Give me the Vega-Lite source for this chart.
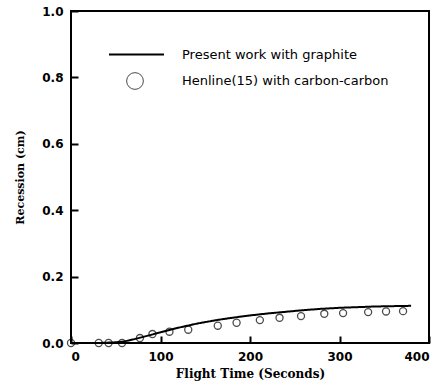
{
  "$schema": "https://vega.github.io/schema/vega-lite/v6.json",
  "width": 358,
  "height": 332,
  "autosize": "none",
  "padding": {"left": 71, "top": 11, "right": 18, "bottom": 42},
  "background": "white",
  "config": {
    "view": {"stroke": "black", "strokeWidth": 2},
    "axis": {
      "grid": false,
      "labelFont": "DejaVu Sans",
      "labelFontWeight": "bold",
      "labelFontSize": 12,
      "labelColor": "black",
      "titleFont": "DejaVu Serif",
      "titleFontWeight": "bold",
      "titleColor": "black"
    },
    "legend": {
      "padding": 0,
      "labelFont": "DejaVu Sans",
      "labelFontSize": 13,
      "labelColor": "black",
      "labelLimit": 400
    }
  },
  "datasets": {
    "model": [
      {"t": 30, "recession": 0.0, "series": "Present work with graphite"},
      {"t": 50, "recession": 0.002, "series": "Present work with graphite"},
      {"t": 60, "recession": 0.005, "series": "Present work with graphite"},
      {"t": 70, "recession": 0.011, "series": "Present work with graphite"},
      {"t": 80, "recession": 0.018, "series": "Present work with graphite"},
      {"t": 90, "recession": 0.025, "series": "Present work with graphite"},
      {"t": 100, "recession": 0.032, "series": "Present work with graphite"},
      {"t": 110, "recession": 0.039, "series": "Present work with graphite"},
      {"t": 120, "recession": 0.046, "series": "Present work with graphite"},
      {"t": 130, "recession": 0.052, "series": "Present work with graphite"},
      {"t": 140, "recession": 0.058, "series": "Present work with graphite"},
      {"t": 150, "recession": 0.063, "series": "Present work with graphite"},
      {"t": 165, "recession": 0.070, "series": "Present work with graphite"},
      {"t": 180, "recession": 0.076, "series": "Present work with graphite"},
      {"t": 200, "recession": 0.083, "series": "Present work with graphite"},
      {"t": 220, "recession": 0.089, "series": "Present work with graphite"},
      {"t": 240, "recession": 0.094, "series": "Present work with graphite"},
      {"t": 260, "recession": 0.099, "series": "Present work with graphite"},
      {"t": 280, "recession": 0.103, "series": "Present work with graphite"},
      {"t": 300, "recession": 0.106, "series": "Present work with graphite"},
      {"t": 320, "recession": 0.108, "series": "Present work with graphite"},
      {"t": 340, "recession": 0.110, "series": "Present work with graphite"},
      {"t": 360, "recession": 0.111, "series": "Present work with graphite"},
      {"t": 380, "recession": 0.112, "series": "Present work with graphite"}
    ],
    "henline": [
      {"t": 0, "recession": 0.0, "series": "Henline(15) with carbon-carbon"},
      {"t": 31, "recession": 0.0, "series": "Henline(15) with carbon-carbon"},
      {"t": 42, "recession": 0.0, "series": "Henline(15) with carbon-carbon"},
      {"t": 57, "recession": 0.0, "series": "Henline(15) with carbon-carbon"},
      {"t": 77, "recession": 0.015, "series": "Henline(15) with carbon-carbon"},
      {"t": 91, "recession": 0.027, "series": "Henline(15) with carbon-carbon"},
      {"t": 110, "recession": 0.034, "series": "Henline(15) with carbon-carbon"},
      {"t": 131, "recession": 0.040, "series": "Henline(15) with carbon-carbon"},
      {"t": 164, "recession": 0.052, "series": "Henline(15) with carbon-carbon"},
      {"t": 185, "recession": 0.061, "series": "Henline(15) with carbon-carbon"},
      {"t": 211, "recession": 0.069, "series": "Henline(15) with carbon-carbon"},
      {"t": 233, "recession": 0.076, "series": "Henline(15) with carbon-carbon"},
      {"t": 257, "recession": 0.081, "series": "Henline(15) with carbon-carbon"},
      {"t": 283, "recession": 0.088, "series": "Henline(15) with carbon-carbon"},
      {"t": 304, "recession": 0.090, "series": "Henline(15) with carbon-carbon"},
      {"t": 332, "recession": 0.093, "series": "Henline(15) with carbon-carbon"},
      {"t": 352, "recession": 0.095, "series": "Henline(15) with carbon-carbon"},
      {"t": 371, "recession": 0.096, "series": "Henline(15) with carbon-carbon"}
    ]
  },
  "encoding": {
    "x": {
      "field": "t",
      "type": "quantitative",
      "scale": {"domain": [0, 400], "nice": false, "zero": false},
      "axis": {
        "values": [0, 100, 200, 300, 400],
        "format": "d",
        "title": "Flight Time (Seconds)",
        "titleFontSize": 12,
        "titlePadding": 6,
        "domain": false,
        "ticks": true,
        "offset": -7,
        "tickSize": 7,
        "tickWidth": 2,
        "tickColor": "black",
        "labelPadding": 8,
        "zindex": 2
      }
    },
    "y": {
      "field": "recession",
      "type": "quantitative",
      "scale": {"domain": [0, 1], "nice": false},
      "axis": {
        "values": [0, 0.2, 0.4, 0.6, 0.8, 1.0],
        "format": ".1f",
        "title": "Recession (cm)",
        "titleFontSize": 11,
        "titlePadding": 16,
        "domain": false,
        "ticks": true,
        "offset": -7,
        "tickSize": 7,
        "tickWidth": 2,
        "tickColor": "black",
        "labelPadding": 8,
        "zindex": 2
      }
    }
  },
  "layer": [
    {
      "data": {"name": "model"},
      "mark": {"type": "line", "color": "black", "strokeWidth": 2, "clip": true},
      "encoding": {
        "strokeDash": {
          "field": "series",
          "type": "nominal",
          "scale": {"range": [[1, 0]]},
          "legend": {
            "title": null,
            "orient": "none",
            "legendX": 37,
            "legendY": 15,
            "symbolType": "stroke",
            "symbolSize": 3025,
            "symbolStrokeWidth": 2,
            "symbolStrokeColor": "black",
            "labelOffset": 17
          }
        }
      }
    },
    {
      "data": {"name": "henline"},
      "mark": {"type": "point", "filled": false, "color": "black", "size": 50, "strokeWidth": 1.3},
      "encoding": {
        "shape": {
          "field": "series",
          "type": "nominal",
          "scale": {"range": ["circle"]},
          "legend": {
            "title": null,
            "orient": "none",
            "legendX": 55,
            "legendY": 61,
            "symbolSize": 280,
            "symbolStrokeWidth": 1,
            "symbolStrokeColor": "black",
            "symbolFillColor": "transparent",
            "labelOffset": 38
          }
        }
      }
    }
  ]
}
